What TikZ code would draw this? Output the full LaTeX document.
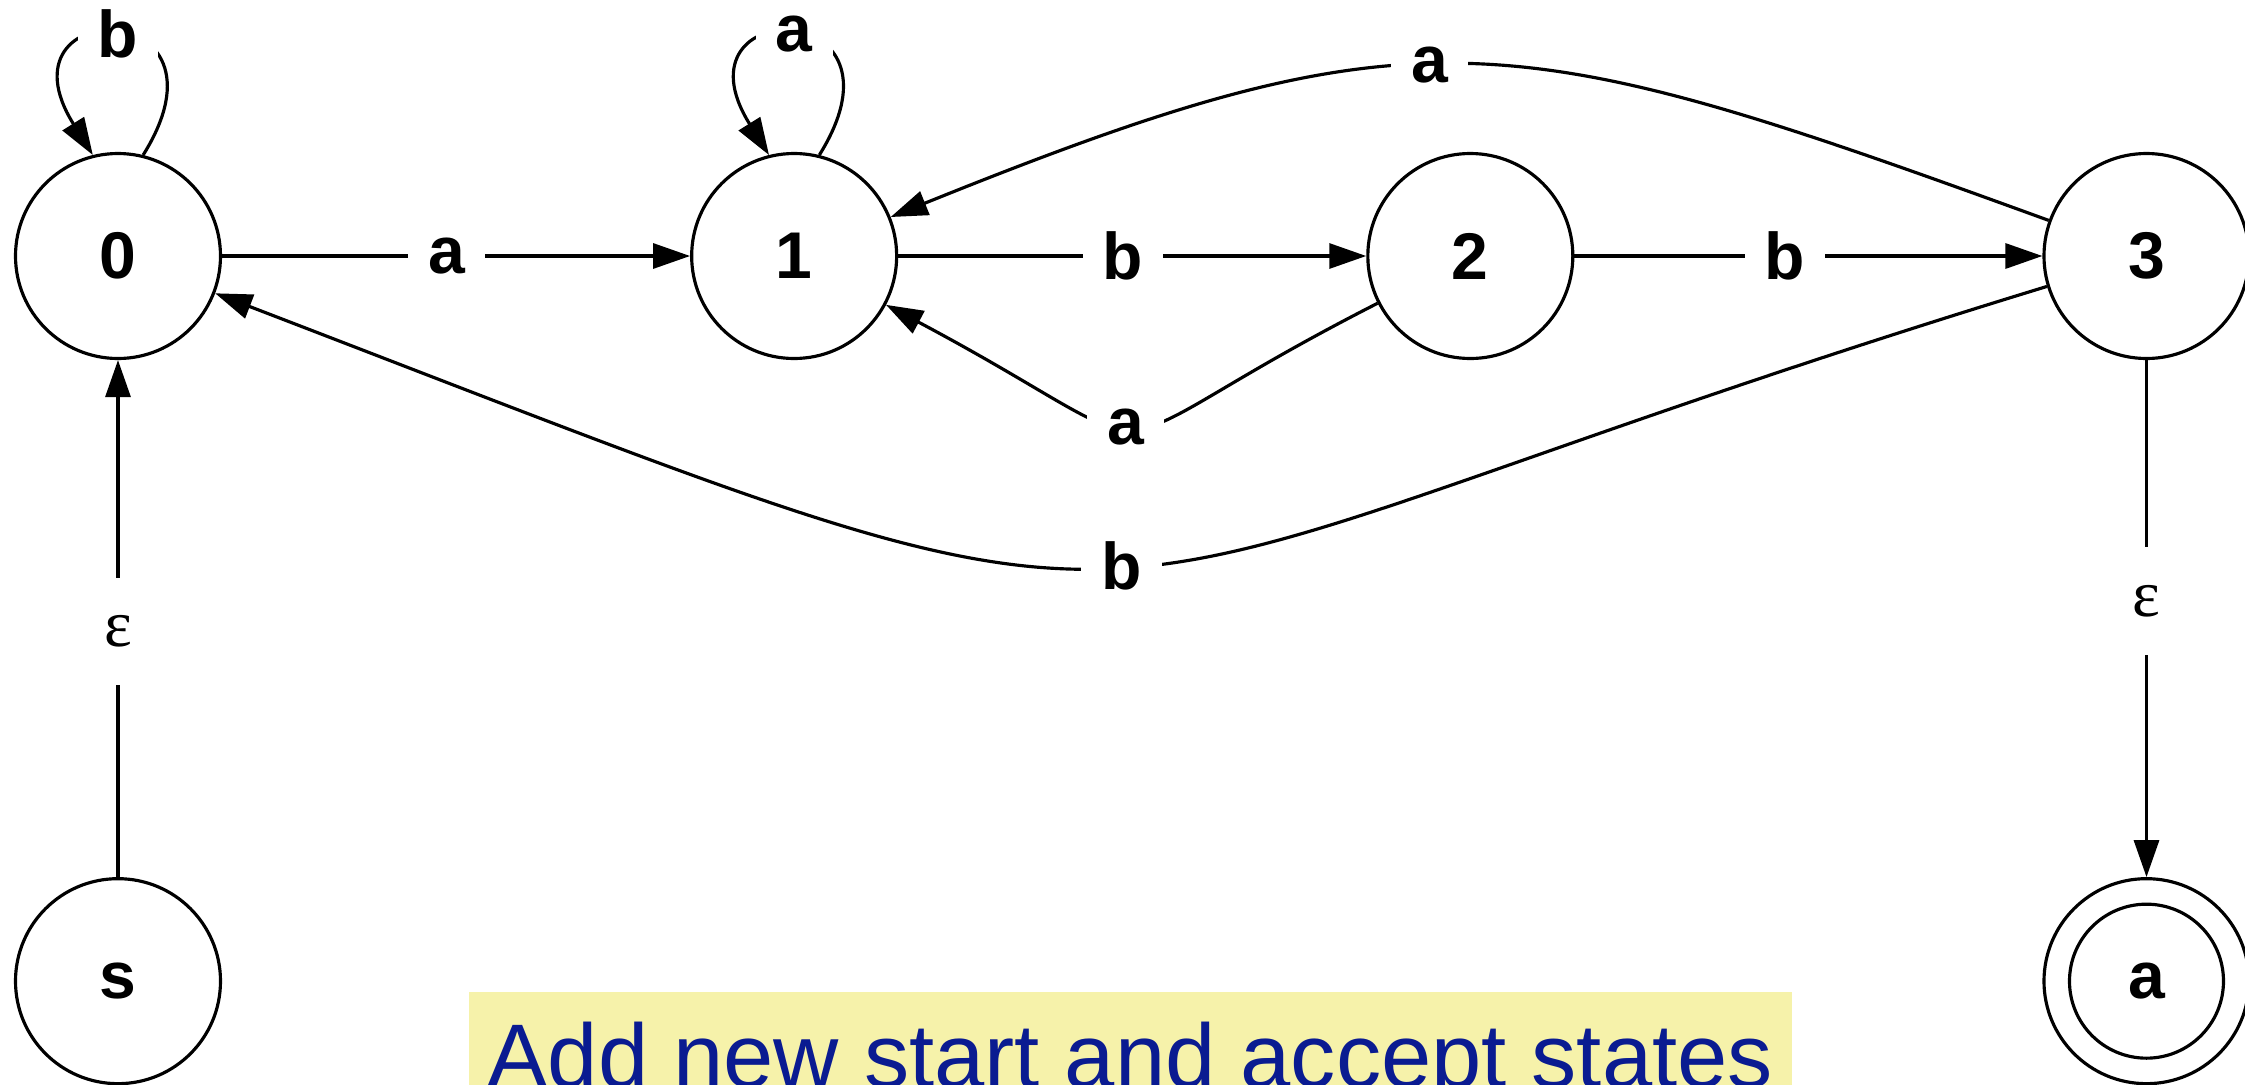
\documentclass[tikz,border=0pt]{standalone}
\usepackage{fontspec}
\setmainfont{Liberation Sans}
\newfontfamily\epsfont{Liberation Serif}
\usetikzlibrary{arrows.meta, positioning}

\definecolor{notebg}{RGB}{246,242,170}
\definecolor{notefg}{RGB}{10,27,145}

\begin{document}
\begin{tikzpicture}[
    line width=0.9pt,
    node distance=4.68cm,
    state/.style={draw, circle, minimum size=2.05cm, inner sep=0pt,
                  font=\fontsize{18.8}{22}\selectfont\bfseries},
    accept/.style={state, path picture={\draw (path picture bounding box.center) circle[radius=0.77cm];}},
    arrow/.style={-{Triangle[length=3.7mm, width=2.5mm]}},
    lbl/.style={fill=white, inner sep=0.2cm, font=\fontsize{18.8}{22}\selectfont\bfseries},
    epslbl/.style={fill=white, inner xsep=0.2cm, inner ysep=0.38cm,
                   font=\fontsize{18.8}{22}\selectfont\epsfont},
    banner/.style={fill=notebg, text=notefg, inner xsep=0.19cm, inner ysep=0.3cm,
                   font=\fontsize{25.7}{30}\selectfont},
]
\useasboundingbox (0,0) rectangle (22.45,10.84);

\node[state] (q0) at (1.18,8.28) {0};
\node[state, right=of q0] (q1) {1};
\node[state, right=of q1] (q2) {2};
\node[state, right=of q2] (q3) {3};
\node[state, below=5.17cm of q0] (s) {s};
\node[accept, below=5.17cm of q3] (acc) {a};

% straight transitions
\draw[arrow] (q0) -- node[lbl, pos=0.48] {a} (q1);
\draw[arrow] (q1) -- node[lbl, pos=0.48] {b} (q2);
\draw[arrow] (q2) -- node[lbl, pos=0.45] {b} (q3);

% self loops
\draw[arrow] (q0.76) to[out=58, in=122, min distance=1.9cm] node[lbl] {b} (q0.104);
\draw[arrow] (q1.76) to[out=58, in=122, min distance=1.9cm] node[lbl] {a} (q1.104);

% back edges
\draw[arrow] (q3) to[out=160, in=22, looseness=1.26] node[lbl, pos=0.54] {a} (q1);
\draw[arrow] (q3) to[out=197, in=-21, looseness=1.58] node[lbl] {b} (q0);
\draw[arrow] (q2) to[out=207, in=-28, looseness=1.85] node[lbl, pos=0.52] {a} (q1);

% new start and accept states
\draw[arrow] (s) -- node[epslbl, pos=0.475] {ε} (q0);
\draw[arrow] (q3) -- node[epslbl, pos=0.466] {ε} (acc);

\node[banner, anchor=base west] (note) at (4.67,-0.03) {Add new start and accept states};
\end{tikzpicture}
\end{document}
